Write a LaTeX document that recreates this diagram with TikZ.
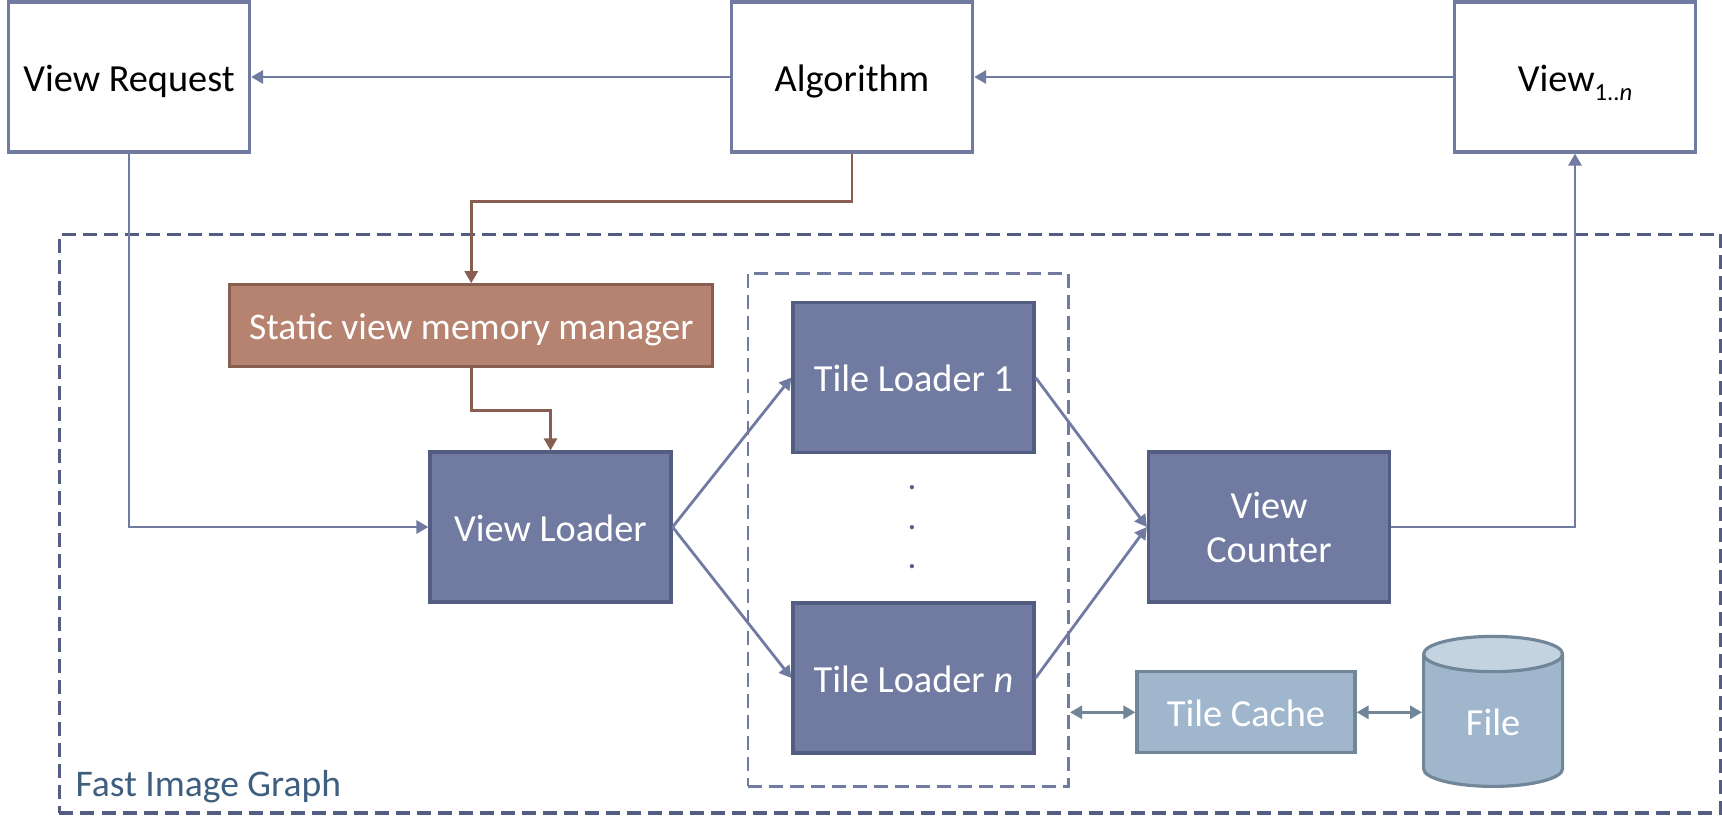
\documentclass[tikz,border=0pt]{standalone}
\usepackage{fontspec}
\setmainfont{Carlito}
\usepackage{tikz}
\usetikzlibrary{arrows.meta,shapes.geometric,positioning}
\definecolor{fgblue}{RGB}{113,123,162}
\definecolor{fgblueline}{RGB}{83,93,130}
\definecolor{fgbrown}{RGB}{181,131,112}
\definecolor{fgbrownline}{RGB}{135,94,80}
\definecolor{fgsteel}{RGB}{160,182,204}
\definecolor{fgsteelline}{RGB}{113,134,152}
\definecolor{fgsteeltop}{RGB}{195,211,224}
\definecolor{fgtitle}{RGB}{63,95,127}
\tikzstyle{arrow} = [line width=0.8pt,->,>={Triangle[length=0.12cm,width=0.13cm]},color=fgblue]
\tikzstyle{brownarrow} = [arrow,color=fgbrownline]
\tikzstyle{cachearrow} = [arrow,<->,color=fgsteelline,line width=1pt]
\tikzstyle{boxtext} = [font=\fontsize{10.9}{12.5}\selectfont, text height=0.28cm, text depth=0cm, inner sep=0pt, align=center]
\tikzstyle{plainbox} = [rectangle, boxtext, minimum width=2.41cm, minimum height=1.5cm, draw=fgblue, fill=white, line width=0.9pt, text=black]
\tikzstyle{loaderbox} = [rectangle, boxtext, minimum width=2.41cm, minimum height=1.5cm, draw=fgblueline, fill=fgblue, line width=0.9pt, text=white]
\tikzstyle{staticbox} = [rectangle, boxtext, font=\fontsize{10.7}{12.5}\selectfont, minimum width=4.83cm, minimum height=0.82cm, draw=fgbrownline, fill=fgbrown, line width=0.9pt, text=white]
\tikzstyle{cachebox} = [rectangle, boxtext, minimum width=2.18cm, minimum height=0.81cm, draw=fgsteelline, fill=fgsteel, line width=0.9pt, text=white]
\tikzstyle{filecyl} = [cylinder, boxtext, shape border rotate=90, aspect=0.65, minimum width=1.39cm, minimum height=1.5cm, draw=fgsteelline, cylinder uses custom fill, cylinder body fill=fgsteel, cylinder end fill=fgsteeltop, line width=0.9pt, text=white]
\tikzstyle{outerbox} = [rectangle, dashed, dash pattern=on 0.14cm off 0.07cm, draw=fgblueline, line width=1pt, minimum width=16.615cm, minimum height=5.787cm]
\tikzstyle{groupbox} = [rectangle, dashed, dash pattern=on 0.14cm off 0.07cm, draw=fgblue, line width=0.85pt, minimum width=3.206cm, minimum height=5.13cm]
\begin{document}
\begin{tikzpicture}
\useasboundingbox (0,0) rectangle (17.22,8.27);

% Dashed frames
\node[outerbox] (fastgraph) at (8.9025,3.0335) {};
\node[groupbox] (tilegroup) at (9.083,2.975) {};
\node[anchor=west, inner sep=0pt, text=fgtitle, font=\fontsize{10.7}{12.5}\selectfont] (fgtitle) at (0.75,0.40) {Fast Image Graph};

% Top row
\node[plainbox] (request) at (1.29,7.5) {View Request};
\node[plainbox] (algo) at (8.52,7.5) {Algorithm};
\node[plainbox] (views) at (15.75,7.5) {View\raisebox{-0.09cm}{\fontsize{7}{8}\selectfont 1..\textit{n}}};

% Loaders
\node[staticbox] (static) at (4.7125,5.012) {Static view memory manager};
\node[loaderbox] (loader) at (5.505,3) {View Loader};
\node[loaderbox] (tile1) at (9.135,4.495) {Tile Loader 1};
\node[loaderbox] (tilen) at (9.135,1.49) {Tile Loader \textit{n}};
\node[loaderbox, text height=0.7cm] (counter) at (12.69,3) {View\\Counter};

% Dots between the tile loaders
\foreach \n/\y in {1/3.397,2/2.997,3/2.607}
  \node[inner sep=0pt, text=fgblueline] (dot\n) at (9.12,\y) {.};

% Cache and file
\node[cachebox] (cache) at (12.46,1.147) {Tile Cache};
\node[filecyl] (file) at (14.931,1.06) {File};

% Arrows
\draw[arrow] (algo) -- (request);
\draw[arrow] (views) -- (algo);
\draw[arrow] (request.south) |- (loader.west);
\draw[arrow] (loader.east) -- (tile1.west);
\draw[arrow] (loader.east) -- (tilen.west);
\draw[arrow] (tile1.east) -- (counter.west);
\draw[arrow] (tilen.east) -- (counter.west);
\draw[arrow] (counter.east) -| (views.south);
\draw[brownarrow] (algo.south) -- ++(0,-0.477) -| (static.north);
\draw[brownarrow] (static.south) -- ++(0,-0.42) -| (loader.north);
\draw[cachearrow] (tilegroup.east |- cache.west) -- (cache.west);
\draw[cachearrow] (cache.east) -- (cache.east -| file.west);
\end{tikzpicture}
\end{document}
